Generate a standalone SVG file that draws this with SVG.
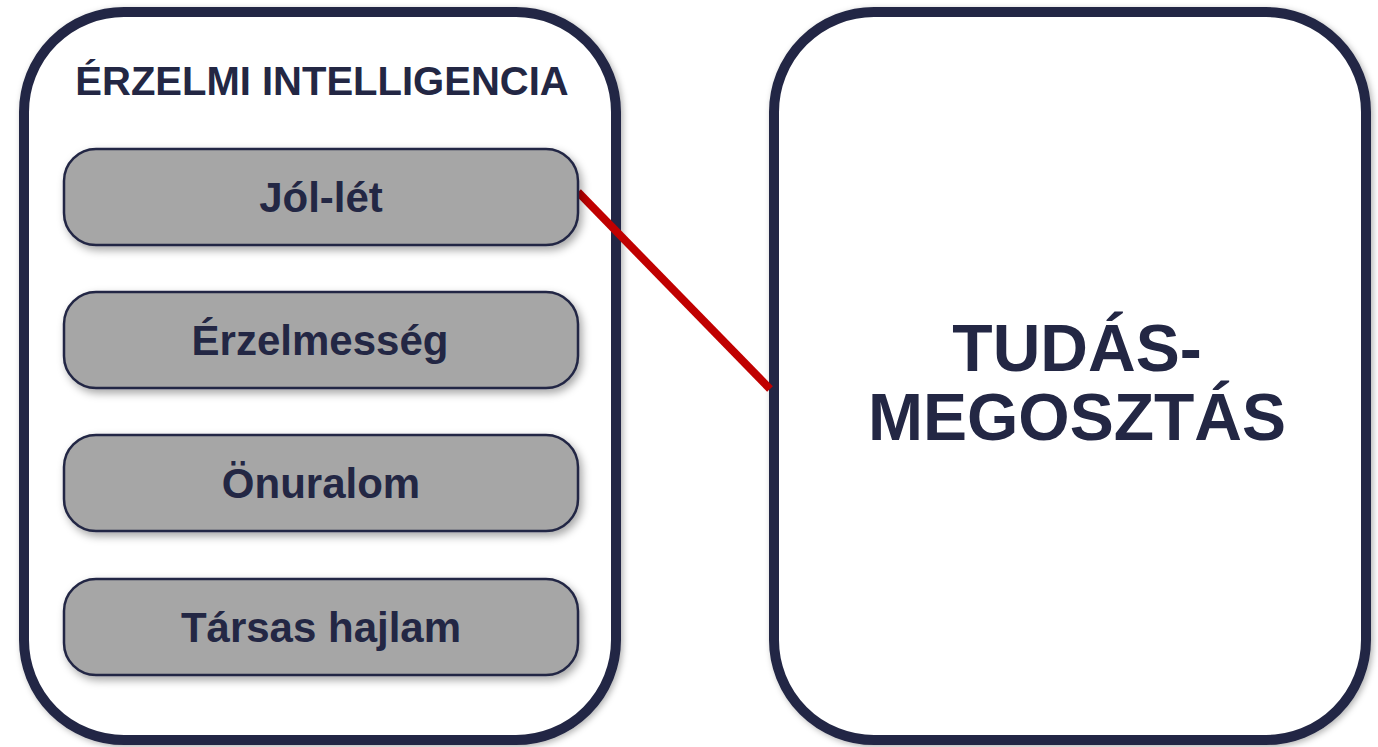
<svg xmlns="http://www.w3.org/2000/svg" width="1378" height="747" viewBox="0 0 1378 747">
<style>
.big{fill:#ffffff;stroke:#232744;stroke-width:10;}
.item{fill:#a6a6a6;stroke:#232744;stroke-width:2.5;}
.t{font-family:"Liberation Sans",Arial,sans-serif;font-weight:bold;fill:#232744;text-anchor:middle;}
.lbl{font-size:42px;}
.conn{stroke:#c00000;stroke-width:8;fill:none;}
</style>
<defs>
<filter id="sh" x="-10%" y="-10%" width="130%" height="140%">
<feDropShadow dx="3" dy="4" stdDeviation="4" flood-color="#000" flood-opacity="0.35"/>
</filter>
<filter id="shb" x="-5%" y="-5%" width="110%" height="110%">
<feDropShadow dx="2" dy="2" stdDeviation="3" flood-color="#000" flood-opacity="0.3"/>
</filter>
</defs>
<rect width="1378" height="747" fill="#ffffff"/>
<g id="erzelmi-intelligencia">
<rect class="big" x="24" y="12" width="592" height="728" rx="100" ry="100" filter="url(#shb)"/>
<text class="t" x="322" y="95" font-size="40">ÉRZELMI INTELLIGENCIA</text>
</g>
<g id="tudasmegosztas">
<rect class="big" x="774" y="12" width="592" height="728" rx="100" ry="100" filter="url(#shb)"/>
<text class="t" x="1077" y="371" font-size="66">TUDÁS-</text>
<text class="t" x="1077" y="440" font-size="66">MEGOSZTÁS</text>
</g>
<g id="connectors">
<line class="conn" x1="578" y1="192" x2="770" y2="389"/>
</g>
<g id="jol-let">
<rect class="item" x="64" y="149" width="514" height="96" rx="32" filter="url(#sh)"/>
<text class="t lbl" x="321" y="212">Jól-lét</text>
</g>
<g id="erzelmesseg">
<rect class="item" x="64" y="292" width="514" height="96" rx="32" filter="url(#sh)"/>
<text class="t lbl" x="320" y="355">Érzelmesség</text>
</g>
<g id="onuralom">
<rect class="item" x="64" y="435" width="514" height="96" rx="32" filter="url(#sh)"/>
<text class="t lbl" x="321" y="498">Önuralom</text>
</g>
<g id="tarsas-hajlam">
<rect class="item" x="64" y="579" width="514" height="96" rx="32" filter="url(#sh)"/>
<text class="t lbl" x="321" y="642">Társas hajlam</text>
</g>
</svg>
